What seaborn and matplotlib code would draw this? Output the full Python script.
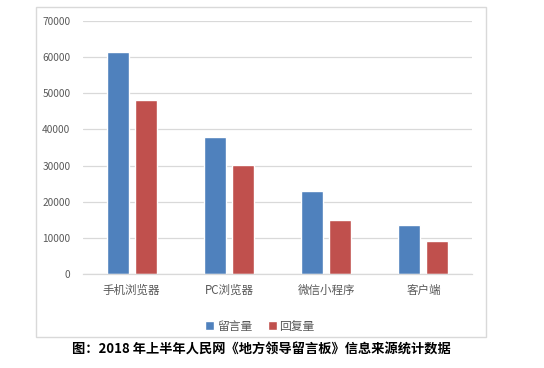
import pandas as pd
import matplotlib.pyplot as plt
import matplotlib.patches as mpatches
import seaborn as sns

# values
categories = ['手机浏览器', 'PC浏览器', '微信小程序', '客户端']
messages = [61500, 38000, 23000, 13600]   # 留言量
replies = [48200, 30200, 15000, 9200]     # 回复量
series = ['留言量', '回复量']
y_ticks = [0, 10000, 20000, 30000, 40000, 50000, 60000, 70000]

df = pd.DataFrame({
    'cat': categories * 2,
    'val': messages + replies,
    'series': [series[0]] * 4 + [series[1]] * 4,
})

sns.set_theme(style='white')
plt.rcParams['font.family'] = ['Noto Sans CJK SC', 'DejaVu Sans']

text_col = '#595959'
grid_col = '#D9D9D9'

fig = plt.figure(figsize=(5.44, 3.68), dpi=100)
ax = fig.add_axes([83 / 544, 1 - 274 / 368, (472 - 83) / 544, (274 - 21) / 368])

sns.barplot(data=df, x='cat', y='val', hue='series', ax=ax,
            palette=['#4F81BD', '#C0504D'], width=0.58, gap=0.22,
            saturation=1, errorbar=None)

ax.set_ylim(0, 70000)
ax.set_yticks(y_ticks)
ax.set_yticklabels([str(v) for v in y_ticks])
ax.yaxis.grid(True, color=grid_col, linewidth=0.9)
ax.set_axisbelow(True)
for side in ['left', 'right', 'top']:
    ax.spines[side].set_visible(False)
ax.spines['bottom'].set_color(grid_col)
ax.spines['bottom'].set_linewidth(0.9)
ax.tick_params(axis='y', length=0, pad=9, labelsize=7.3, labelcolor=text_col)
ax.tick_params(axis='x', length=0, pad=7, labelsize=8.3, labelcolor=text_col)
ax.set_xlabel('')
ax.set_ylabel('')

# legend below the categories
handles, labels = ax.get_legend_handles_labels()
ax.get_legend().remove()
fig.legend(handles, labels, loc='center', bbox_to_anchor=(0.478, 0.114),
           ncol=2, frameon=False, fontsize=8.5, handlelength=0.75,
           handleheight=0.75, handletextpad=0.25, columnspacing=1.3,
           labelcolor=text_col)

# chart frame
fig.patches.append(mpatches.Rectangle((36 / 544, 1 - 337 / 368),
                                      (486 - 36) / 544, (337 - 7) / 368,
                                      transform=fig.transFigure, fill=False,
                                      edgecolor=grid_col, linewidth=1))

fig.text(0.48, 1 - 350 / 368, '图：2018 年上半年人民网《地方领导留言板》信息来源统计数据',
         ha='center', va='center', fontsize=9.5, fontweight='bold', color='black')

fig.savefig('out.png', dpi=100)
